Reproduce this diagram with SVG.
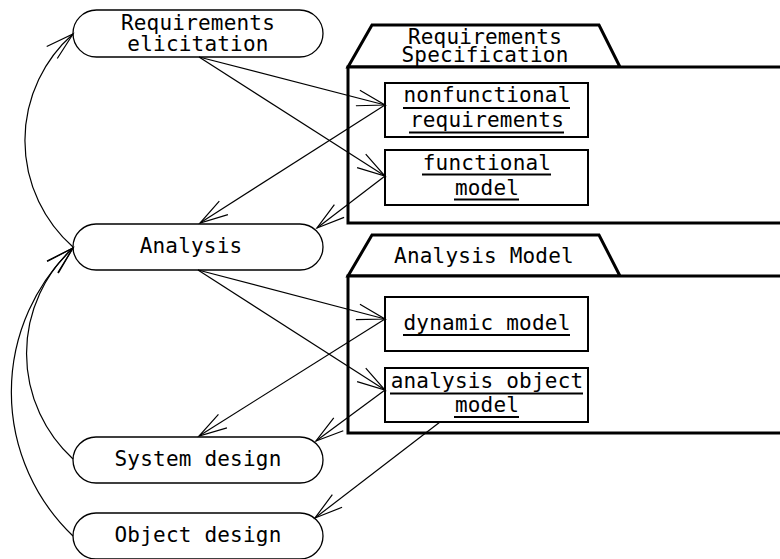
<svg xmlns="http://www.w3.org/2000/svg" width="780" height="559" viewBox="0 0 780 559">
<defs>
<style>
.t{font-family:"DejaVu Sans Mono","Liberation Mono",monospace;font-size:21px;letter-spacing:0.2px;text-anchor:middle;fill:#000}
.node{fill:#fff;stroke:#000;stroke-width:1.3}
.box{fill:#fff;stroke:#000;stroke-width:2}
.pkg{fill:#fff;stroke:#000;stroke-width:3;stroke-linejoin:miter}
.ul{stroke:#000;stroke-width:2}
.c{fill:none;stroke:#000;stroke-width:1.2;marker-end:url(#arr)}
</style>
<marker id="arr" markerUnits="userSpaceOnUse" markerWidth="60" markerHeight="60" viewBox="-40 -30 60 60" refX="0" refY="0" orient="auto" overflow="visible">
<path d="M-28,-8 L0,0 L-28,8" fill="none" stroke="#000" stroke-width="1.2"/>
</marker>
</defs>

<g id="pkg-reqspec">
<polygon class="pkg" points="348,67 372,25 599,25 620,67"/>
<rect class="pkg" x="348" y="67" width="450" height="156"/>
<text class="t" x="485" y="44">Requirements</text>
<text class="t" x="485" y="62">Specification</text>
</g>

<g id="pkg-analysis">
<polygon class="pkg" points="348,276 372,235 599,235 620,276"/>
<rect class="pkg" x="348" y="276" width="450" height="157"/>
<text class="t" x="484" y="263">Analysis Model</text>
</g>

<g id="nonfunctional">
<rect class="box" x="385" y="83" width="203" height="54"/>
<text class="t" x="487" y="102">nonfunctional</text>
<line class="ul" x1="403" y1="108" x2="570" y2="108"/>
<text class="t" x="487" y="127">requirements</text>
<line class="ul" x1="409" y1="132.5" x2="564" y2="132.5"/>
</g>

<g id="functional">
<rect class="box" x="385" y="150" width="203" height="55"/>
<text class="t" x="487" y="170">functional</text>
<line class="ul" x1="422" y1="174.5" x2="551" y2="174.5"/>
<text class="t" x="487" y="195">model</text>
<line class="ul" x1="454" y1="199.5" x2="519" y2="199.5"/>
</g>

<g id="dynamic">
<rect class="box" x="385" y="297" width="203" height="54"/>
<text class="t" x="487" y="330">dynamic model</text>
<line class="ul" x1="403" y1="335" x2="570" y2="335"/>
</g>

<g id="aom">
<rect class="box" x="385" y="368" width="203" height="54"/>
<text class="t" x="487" y="388">analysis object</text>
<line class="ul" x1="390" y1="393.5" x2="583" y2="393.5"/>
<text class="t" x="487" y="412">model</text>
<line class="ul" x1="454" y1="417" x2="519" y2="417"/>
</g>

<g id="req-elicitation">
<rect class="node" x="73" y="10" width="250" height="47" rx="23.5"/>
<text class="t" x="198" y="30">Requirements</text>
<text class="t" x="198" y="51">elicitation</text>
</g>

<g id="analysis">
<rect class="node" x="73" y="224" width="250" height="46" rx="23"/>
<text class="t" x="191" y="253">Analysis</text>
</g>

<g id="system-design">
<rect class="node" x="73" y="437" width="250" height="46" rx="23"/>
<text class="t" x="198" y="466">System design</text>
</g>

<g id="object-design">
<rect class="node" x="73" y="513" width="250" height="46" rx="23"/>
<text class="t" x="198" y="542">Object design</text>
</g>

<g id="connectors">
<path class="c" d="M199,57 L385,105"/>
<path class="c" d="M199,57 L385,176"/>
<path class="c" d="M385,105 L200,223"/>
<path class="c" d="M385,176 L317,228"/>
<path class="c" d="M198,270 L385,319"/>
<path class="c" d="M198,270 L385,390"/>
<path class="c" d="M385,319 L199,436"/>
<path class="c" d="M385,390 L316,441"/>
<path class="c" d="M440,422 L315,518"/>
<path class="c" d="M73,247 A142,142 0 0 1 73,34"/>
<path class="c" d="M73,459 A143,143 0 0 1 73,248"/>
<path class="c" d="M73,536 A199,199 0 0 1 73,248"/>
</g>
</svg>
